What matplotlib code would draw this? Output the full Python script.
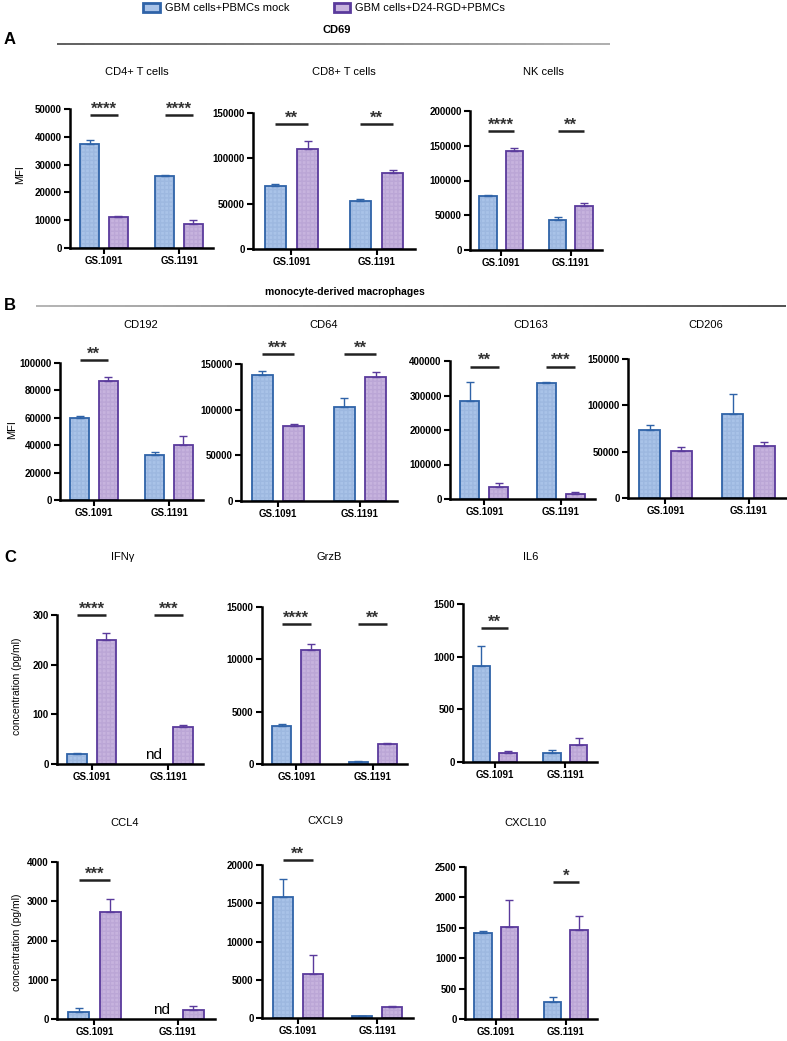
import numpy as np
import matplotlib
matplotlib.use('Agg')
import matplotlib.pyplot as plt
from matplotlib.patches import Patch
from matplotlib.collections import LineCollection
from matplotlib import colors as mcolors

plt.rcParams['font.family'] = ['Liberation Sans', 'DejaVu Sans']

# ---- data (upper error = SD bar above the mean) ----
groups = ['GS.1091', 'GS.1191']
legend_labels = ['GBM cells+PBMCs mock', 'GBM cells+D24-RGD+PBMCs']

# panel A: CD69 MFI
a_titles = ['CD4+ T cells', 'CD8+ T cells', 'NK cells']
a_mock = [[37500, 26000], [70000, 52500], [77500, 42500]]
a_mock_err = [[1200, 300], [2000, 3000], [1500, 5000]]
a_virus = [[11000, 8500], [110500, 83500], [143000, 63000]]
a_virus_err = [[500, 1700], [9000, 4000], [4000, 4000]]
a_sig = [['****', '****'], ['**', '**'], ['****', '**']]

# panel B: monocyte-derived macrophages MFI
b_titles = ['CD192', 'CD64', 'CD163', 'CD206']
b_mock = [[59500, 33000], [138000, 103000], [285000, 335000], [73000, 91000]]
b_mock_err = [[2000, 2000], [4000, 9500], [53000, 3000], [6000, 21000]]
b_virus = [[86500, 40000], [82000, 136000], [35000, 14000], [50500, 56500]]
b_virus_err = [[3500, 6500], [2000, 5000], [10000, 6000], [4000, 4000]]
b_sig = [['**', ''], ['***', '**'], ['**', '***'], ['', '']]

# panel C: cytokines (pg/ml), None = not detected
c_titles = ['IFNγ', 'GrzB', 'IL6', 'CCL4', 'CXCL9', 'CXCL10']
c_mock = [[20, None], [3650, 200], [915, 85], [190, None], [15800, 200], [1420, 280]]
c_mock_err = [[3, 0], [150, 100], [185, 30], [90, 0], [2400, 50], [20, 80]]
c_virus = [[250, 75], [10900, 1950], [85, 165], [2720, 240], [5700, 1400], [1510, 1460]]
c_virus_err = [[14, 4], [600, 100], [15, 60], [340, 90], [2500, 200], [450, 230]]
c_sig = [['****', '***'], ['****', '**'], ['**', ''], ['***', ''], ['**', ''], ['', '*']]

# ---- layout (pixels) ----
W, H = 787, 1041
blue_face, blue_edge, blue_hatch = '#a9c3e8', '#2f63a8', '#9db8e0'
purp_face, purp_edge, purp_hatch = '#c7b3de', '#5a3a9c', '#bba6d6'

fig = plt.figure(figsize=(W / 100, H / 100), dpi=100)


def fx(x):
    return x / W


def fy(y):
    return 1 - y / H


def add_ax(l, t, r, b):
    return fig.add_axes([fx(l), fy(b), (r - l) / W, (b - t) / H])


def draw_chart(ax, mock, mock_err, virus, virus_err, ytop, ystep, sig, sig_frac):
    x = np.arange(len(groups))
    off, w = 0.19, 0.25
    for vals, errs, shift, face, edge, hc in [
            (mock, mock_err, -off, blue_face, blue_edge, blue_hatch),
            (virus, virus_err, off, purp_face, purp_edge, purp_hatch)]:
        for i, v in enumerate(vals):
            xi = x[i] + shift
            if v is None:
                ax.text(xi, ytop * 0.015, 'nd', ha='center', va='bottom', fontsize=11)
                continue
            ax.bar(xi, v, w, color=face, hatch='++++', edgecolor=hc, lw=0)
            ax.bar(xi, v, w, fill=False, edgecolor=edge, lw=1.3)
            ax.errorbar(xi, v, yerr=[[0], [errs[i]]], fmt='none', ecolor=edge,
                        elinewidth=1, capsize=3, capthick=1)
    for i, s in enumerate(sig):
        if not s:
            continue
        y = sig_frac * ytop
        ax.plot([x[i] - off, x[i] + off], [y, y], color='#222222', lw=1.8,
                clip_on=False, solid_capstyle='butt')
        ax.annotate(s, (x[i], y), xytext=(0, 1), textcoords='offset points',
                    ha='center', va='baseline', fontsize=12, fontweight='bold',
                    color='#333333', annotation_clip=False)
    ax.set_xlim(-0.45, 1.45)
    ax.set_ylim(0, ytop)
    ticks = np.arange(0, ytop + 1, ystep)
    ax.set_yticks(ticks, [str(int(t)) for t in ticks])
    ax.set_xticks(x, groups)
    for sp in ['top', 'right']:
        ax.spines[sp].set_visible(False)
    for sp in ['left', 'bottom']:
        ax.spines[sp].set_linewidth(1.8)
    ax.tick_params(direction='out', length=4, width=1.5, pad=2, labelsize=7)
    for lab in ax.get_xticklabels() + ax.get_yticklabels():
        lab.set_fontweight('bold')


def header_line(x0, x1, y, c0, c1):
    xs = np.linspace(fx(x0), fx(x1), 60)
    segs = [[(xs[k], fy(y)), (xs[k + 1], fy(y))] for k in range(len(xs) - 1)]
    cmap = mcolors.LinearSegmentedColormap.from_list('g', [c0, c1])
    cols = [cmap(k / (len(segs) - 1)) for k in range(len(segs))]
    fig.add_artist(LineCollection(segs, colors=cols, linewidths=1.1, transform=fig.transFigure))


# legend
handles = [Patch(facecolor=blue_face, edgecolor=blue_edge, lw=2),
           Patch(facecolor=purp_face, edgecolor=purp_edge, lw=2)]
fig.legend(handles, legend_labels, loc='center', bbox_to_anchor=(fx(324), fy(8)),
           ncol=2, frameon=False, fontsize=8, handlelength=1.5, handleheight=0.9,
           handletextpad=0.4, columnspacing=4.0)

# panel A
fig.text(fx(4), fy(39), 'A', fontsize=12, fontweight='bold', va='center')
fig.text(fx(337), fy(30), 'CD69', fontsize=8, fontweight='bold', ha='center', va='center')
header_line(57, 610, 44, '#333333', '#999999')
a_boxes = [(70, 109, 213, 248), (253, 113, 415, 249), (470, 111, 602, 250)]
a_ylim = [(50000, 10000), (150000, 50000), (200000, 50000)]
a_sig_frac = [0.956, 0.92, 0.855]
a_title_x = [137, 344, 543]
for k in range(3):
    ax = add_ax(*a_boxes[k])
    draw_chart(ax, a_mock[k], a_mock_err[k], a_virus[k], a_virus_err[k],
               a_ylim[k][0], a_ylim[k][1], a_sig[k], a_sig_frac[k])
    fig.text(fx(a_title_x[k]), fy(72), a_titles[k], fontsize=8, ha='center', va='center')
fig.text(fx(20), fy(175), 'MFI', fontsize=8, rotation=90, ha='center', va='center')

# panel B
fig.text(fx(4), fy(305), 'B', fontsize=12, fontweight='bold', va='center')
fig.text(fx(345), fy(292), 'monocyte-derived macrophages', fontsize=7.5,
         fontweight='bold', ha='center', va='center')
header_line(36, 786, 306, '#a0a0a0', '#222222')
b_boxes = [(60, 363, 203, 500), (241, 364, 397, 501), (450, 361, 595, 499), (628, 359, 786, 498)]
b_ylim = [(100000, 20000), (150000, 50000), (400000, 100000), (150000, 50000)]
b_sig_frac = [1.02, 1.07, 0.96, 1.0]
b_title_x = [141, 324, 531, 706]
for k in range(4):
    ax = add_ax(*b_boxes[k])
    draw_chart(ax, b_mock[k], b_mock_err[k], b_virus[k], b_virus_err[k],
               b_ylim[k][0], b_ylim[k][1], b_sig[k], b_sig_frac[k])
    fig.text(fx(b_title_x[k]), fy(325), b_titles[k], fontsize=8, ha='center', va='center')
fig.text(fx(12), fy(430), 'MFI', fontsize=8, rotation=90, ha='center', va='center')

# panel C
fig.text(fx(4), fy(557), 'C', fontsize=12, fontweight='bold', va='center')
c_boxes = [(57, 615, 203, 764), (262, 607, 407, 764), (463, 604, 597, 762),
           (57, 862, 215, 1019), (262, 865, 413, 1018), (465, 867, 597, 1019)]
c_ylim = [(300, 100), (15000, 5000), (1500, 500), (4000, 1000), (20000, 5000), (2500, 500)]
c_sig_frac = [1.0, 0.89, 0.85, 0.885, 1.03, 0.9]
c_title_pos = [(123, 557), (329, 557), (531, 557), (125, 823), (325, 821), (525, 823)]
for k in range(6):
    ax = add_ax(*c_boxes[k])
    draw_chart(ax, c_mock[k], c_mock_err[k], c_virus[k], c_virus_err[k],
               c_ylim[k][0], c_ylim[k][1], c_sig[k], c_sig_frac[k])
    tx, ty = c_title_pos[k]
    fig.text(fx(tx), fy(ty), c_titles[k], fontsize=8, ha='center', va='center')
for yc in [686, 942]:
    fig.text(fx(17), fy(yc), 'concentration (pg/ml)', fontsize=7.5, rotation=90,
             ha='center', va='center')

fig.savefig('out.png', dpi=100)
